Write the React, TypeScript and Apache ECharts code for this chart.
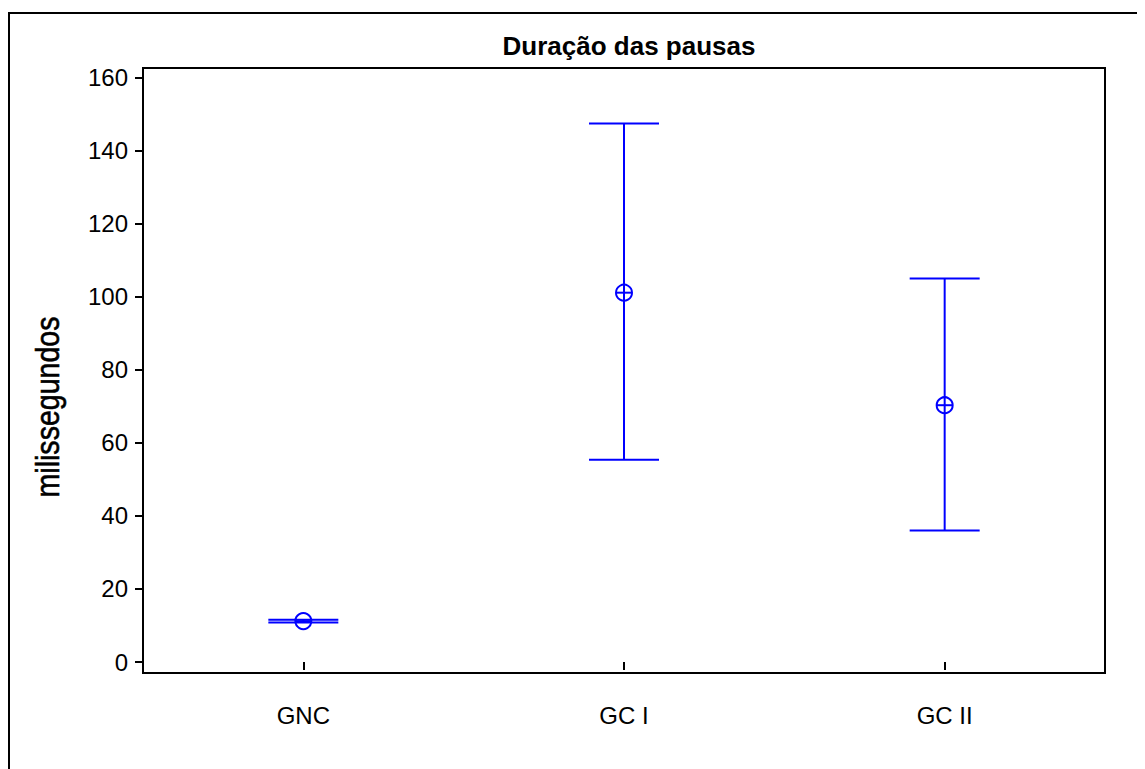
import React, { useEffect, useRef } from "react";
import * as echarts from "echarts";

const categories = ["GNC", "GC I", "GC II"];
const means = [11.2, 101.1, 70.3];
const lower = [10.8, 55.4, 36.0];
const upper = [11.6, 147.4, 105.0];
const yTicks = [0, 20, 40, 60, 80, 100, 120, 140, 160];

const FONT = "'Liberation Sans', Arial, sans-serif";
const BLUE = "#0000ff";

export default function App() {
  const ref = useRef<HTMLDivElement>(null);
  useEffect(() => {
    if (!ref.current) return;
    const chart = echarts.init(ref.current, undefined, { renderer: "svg" });
    const data = categories.map((_, i) => [i, means[i], lower[i], upper[i]]);
    chart.setOption({
      animation: false,
      backgroundColor: "#fff",
      title: {
        text: "Duração das pausas",
        left: 616,
        top: 20,
        textAlign: "center",
        textStyle: { fontFamily: FONT, fontSize: 26, fontWeight: "bold", color: "#000" },
      },
      graphic: [
        {
          type: "rect",
          shape: { x: 1, y: 5, width: 1300, height: 900 },
          style: { fill: "none", stroke: "#000", lineWidth: 2 },
          silent: true,
        },
        {
          type: "text",
          x: 40,
          y: 399,
          rotation: Math.PI / 2,
          scaleX: 0.84,
          style: {
            text: "milissegundos",
            fontFamily: FONT,
            fontSize: 34,
            fill: "#000",
            stroke: "#000",
            lineWidth: 0.6,
            align: "center",
            verticalAlign: "middle",
          },
        },
      ],
      grid: {
        left: 135,
        top: 60,
        right: 40,
        bottom: 96,
        show: true,
        borderColor: "#000",
        borderWidth: 2,
        backgroundColor: "transparent",
      },
      xAxis: {
        type: "category",
        data: categories,
        boundaryGap: true,
        axisLine: { show: false },
        axisTick: { show: true, alignWithLabel: true, length: 8, lineStyle: { color: "#000", width: 2 } },
        axisLabel: { fontFamily: FONT, fontSize: 24, color: "#000", margin: 30 },
        splitLine: { show: false },
      },
      yAxis: {
        type: "value",
        min: -3,
        max: 162.6,
        axisLine: { show: false },
        axisTick: { show: true, length: 8, customValues: yTicks, lineStyle: { color: "#000", width: 2 } },
        axisLabel: { fontFamily: FONT, fontSize: 24, color: "#000", margin: 15, customValues: yTicks },
        splitLine: { show: false },
      },
      series: [
        {
          type: "custom",
          data,
          encode: { x: 0, y: [1, 2, 3] },
          renderItem: (params: any, api: any) => {
            const i = api.value(0);
            const m = api.coord([i, api.value(1)]);
            const lo = api.coord([i, api.value(2)]);
            const hi = api.coord([i, api.value(3)]);
            const hw = 35;
            const r = 8;
            const style = { stroke: BLUE, lineWidth: 2, fill: "none" };
            return {
              type: "group",
              children: [
                { type: "line", shape: { x1: lo[0], y1: lo[1], x2: hi[0], y2: hi[1] }, style },
                { type: "line", shape: { x1: lo[0] - hw, y1: lo[1], x2: lo[0] + hw, y2: lo[1] }, style },
                { type: "line", shape: { x1: hi[0] - hw, y1: hi[1], x2: hi[0] + hw, y2: hi[1] }, style },
                { type: "circle", shape: { cx: m[0], cy: m[1], r }, style },
                { type: "line", shape: { x1: m[0] - r, y1: m[1], x2: m[0] + r, y2: m[1] }, style },
              ],
            };
          },
        },
      ],
    });
    return () => chart.dispose();
  }, []);
  return <div ref={ref} style={{ width: 1137, height: 761 }} />;
}
